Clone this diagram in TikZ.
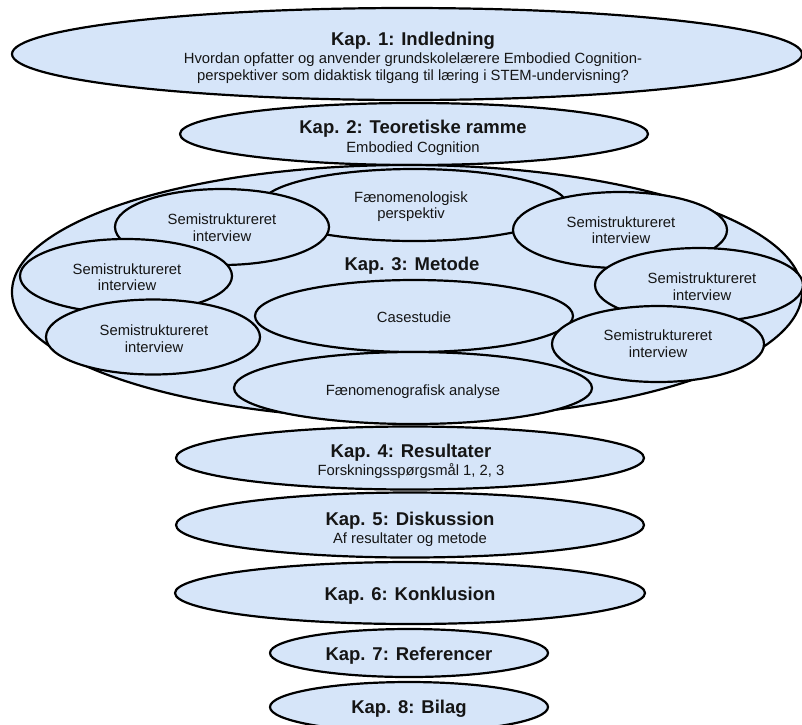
\documentclass[tikz,border=0pt]{standalone}
\usepackage{fontspec}
\setmainfont{Liberation Sans}
\usetikzlibrary{shapes.geometric}
\definecolor{chapfill}{HTML}{D6E5F9}
\definecolor{inkline}{HTML}{000000}
\definecolor{inktext}{HTML}{151515}
\begin{document}
\begin{tikzpicture}[x=1pt,y=-1pt,
  oval/.style 2 args={ellipse, draw=inkline, fill=chapfill, line width=2.2pt,
    inner sep=0pt, minimum width=#1pt, minimum height=#2pt},
  headtext/.style={anchor=base, inner sep=0pt, text=inktext,
    font=\fontsize{18.5}{20}\selectfont\bfseries},
  bodytext/.style={anchor=base, inner sep=0pt, text=inktext,
    font=\fontsize{14.8}{17}\selectfont}]
\useasboundingbox (0,0) rectangle (802,724);

% Kap. 1
\node[oval={790}{92}] (k1) at (407,54) {};
\node[headtext] (k1h) at (413,45) {Kap. 1: Indledning};
\node[bodytext] (k1a) at (413,63) {Hvordan opfatter og anvender grundskolelærere Embodied Cognition-};
\node[bodytext] (k1b) at (413,80) {perspektiver som didaktisk tilgang til læring i STEM-undervisning?};

% Kap. 2
\node[oval={468}{62}] (k2) at (414,134) {};
\node[headtext] (k2h) at (413,133) {Kap. 2: Teoretiske ramme};
\node[bodytext] (k2a) at (413,152) {Embodied Cognition};

% Kap. 3 with its method parts
\node[oval={790}{254}] (k3) at (407,292) {};
\node[headtext] (k3h) at (412,270) {Kap. 3: Metode};

\node[oval={306}{72}] (fp) at (414,205) {};
\node[bodytext] (fpa) at (411,202) {Fænomenologisk};
\node[bodytext] (fpb) at (411,218) {perspektiv};

\node[oval={318}{72}] (cs) at (414,316) {};
\node[bodytext] (csa) at (414,322) {Casestudie};

\node[oval={358}{72}] (fa) at (413,388) {};
\node[bodytext] (faa) at (413,395) {Fænomenografisk analyse};

\node[oval={214}{76}] (s1) at (222,227) {};
\node[bodytext] (s1a) at (222,224) {Semistruktureret};
\node[bodytext] (s1b) at (222,241) {interview};

\node[oval={212}{74}] (s2) at (126,276) {};
\node[bodytext] (s2a) at (127,274) {Semistruktureret};
\node[bodytext] (s2b) at (127,290) {interview};

\node[oval={214}{75}] (s3) at (153,337) {};
\node[bodytext] (s3a) at (154,335) {Semistruktureret};
\node[bodytext] (s3b) at (154,352) {interview};

\node[oval={214}{76}] (s4) at (620,230) {};
\node[bodytext] (s4a) at (621,227) {Semistruktureret};
\node[bodytext] (s4b) at (621,243) {interview};

\node[oval={208}{74}] (s5) at (699,285) {};
\node[bodytext] (s5a) at (702,283) {Semistruktureret};
\node[bodytext] (s5b) at (702,300) {interview};

\node[oval={212}{76}] (s6) at (658,344) {};
\node[bodytext] (s6a) at (658,340) {Semistruktureret};
\node[bodytext] (s6b) at (658,357) {interview};

% Kap. 4 - 8
\node[oval={468}{63}] (k4) at (410,458) {};
\node[headtext] (k4h) at (411,457) {Kap. 4: Resultater};
\node[bodytext] (k4a) at (411,475) {Forskningsspørgsmål 1, 2, 3};

\node[oval={468}{65}] (k5) at (410,525) {};
\node[headtext] (k5h) at (410,525) {Kap. 5: Diskussion};
\node[bodytext] (k5a) at (410,543) {Af resultater og metode};

\node[oval={470}{62}] (k6) at (410,593) {};
\node[headtext] (k6h) at (410,600) {Kap. 6: Konklusion};

\node[oval={278}{48}] (k7) at (409,653) {};
\node[headtext] (k7h) at (409,660) {Kap. 7: Referencer};

\node[oval={278}{50}] (k8) at (409,707) {};
\node[headtext] (k8h) at (409,713) {Kap. 8: Bilag};
\end{tikzpicture}
\end{document}
